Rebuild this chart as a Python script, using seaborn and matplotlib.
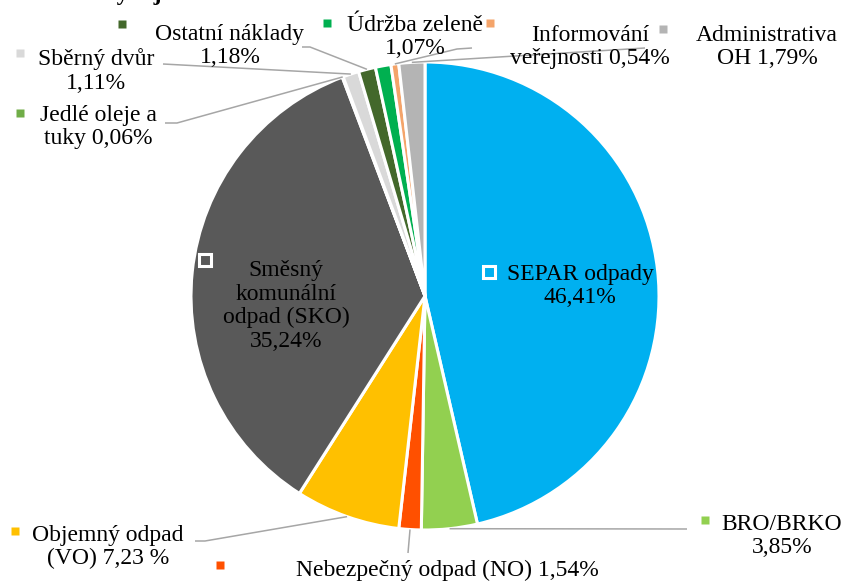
import matplotlib
matplotlib.use("Agg")
import matplotlib.pyplot as plt
import seaborn as sns
import numpy as np

# data (podíl výdajů na OH, %)
categories = ["SEPAR odpady", "BRO/BRKO", "Nebezpečný odpad (NO)", "Objemný odpad\n(VO)",
              "Směsný\nkomunální\nodpad (SKO)", "Jedlé oleje a\ntuky", "Sběrný dvůr",
              "Ostatní náklady", "Údržba zeleně", "Informování\nveřejnosti", "Administrativa\nOH"]
shares = [46.41, 3.85, 1.54, 7.23, 35.24, 0.06, 1.11, 1.18, 1.07, 0.54, 1.79]
joins = ["\n", "\n", " ", " ", "\n", " ", "\n", "\n", "\n", " ", " "]
pct_sep = ["", "", "", " ", "", "", "", "", "", "", ""]
colors = ["#00B0F0", "#92D050", "#FF5000", "#FFC000", "#595959", "#70AD47",
          "#D9D9D9", "#43682B", "#00B050", "#F4A46A", "#B4B4B4"]
title = "Graf č. 3: Výdaje na OH v roce 2019"

# layout in pixels of the 844x583 canvas
W, H = 844, 583
CX, CY, R = 425, 296, 234
label_pos = [(580, 286), (782, 536), (447, 570), (108, 547), (286, 306), (98, 127),
             (96, 71), (230, 46), (415, 37), (590, 47), (767, 47)]
key_pos = [(489, 272), (705, 520), (220, 565), (15, 531), (205, 260), (20, 113),
           (20, 53), (122, 24), (327, 23), (490, 23), (663, 29)]
inside = [True, False, False, False, True, False, False, False, False, False, False]
# leader lines: points from the label towards the slice (slice point is added)
leaders = {1: [(687, 529)], 2: [(408, 553)], 3: [(195, 541), (205, 541)],
           5: [(165, 123), (177, 123)], 6: [(163, 64)], 7: [(302, 47), (310, 47)],
           9: [(472, 48), (457, 49)], 10: [(645, 48)]}


def px(x, y):
    return (x - CX) / R, (CY - y) / R


sns.set_style("white")
plt.rcParams['font.family'] = ['Liberation Serif', 'DejaVu Serif']
palette = sns.color_palette(colors)

fig = plt.figure(figsize=(W / 100, H / 100), dpi=100)
ax = fig.add_axes([0, 0, 1, 1])
wedges, _ = ax.pie(shares, colors=palette, startangle=90, counterclock=False, radius=1,
                   wedgeprops=dict(edgecolor="white", linewidth=2.2))
ax.set_xlim(-CX / R, (W - CX) / R)
ax.set_ylim(-(H - CY) / R, CY / R)
ax.set_aspect("auto")
ax.axis("off")

for i, w in enumerate(wedges):
    mid = np.deg2rad((w.theta1 + w.theta2) / 2)
    sx, sy = np.cos(mid), np.sin(mid)
    if i in leaders:
        pts = [px(*p) for p in leaders[i]] + [(sx, sy)]
        ax.plot([p[0] for p in pts], [p[1] for p in pts], color="#A6A6A6", lw=1.1,
                solid_capstyle="butt", zorder=3)
    txt = categories[i] + joins[i] + f"{shares[i]:.2f}".replace(".", ",") + pct_sep[i] + "%"
    lx, ly = px(*label_pos[i])
    ax.text(lx, ly, txt, ha="center", va="center", fontsize=17, color="black",
            linespacing=1.17, multialignment="center", zorder=5)
    kx, ky = px(*key_pos[i])
    if inside[i]:
        ax.plot(kx, ky, marker="s", ms=8, mfc=colors[i], mec="white", mew=2.2, zorder=5)
    else:
        ax.plot(kx, ky, marker="s", ms=5.5, mfc=colors[i], mec="none", zorder=5)

# title is cut off at the top edge in the original picture
fig.text(-0.002, 1.0, title, fontsize=17, fontweight="bold", ha="left",
         va="baseline", color="black")

fig.savefig("out.png", dpi=100, facecolor="white")
